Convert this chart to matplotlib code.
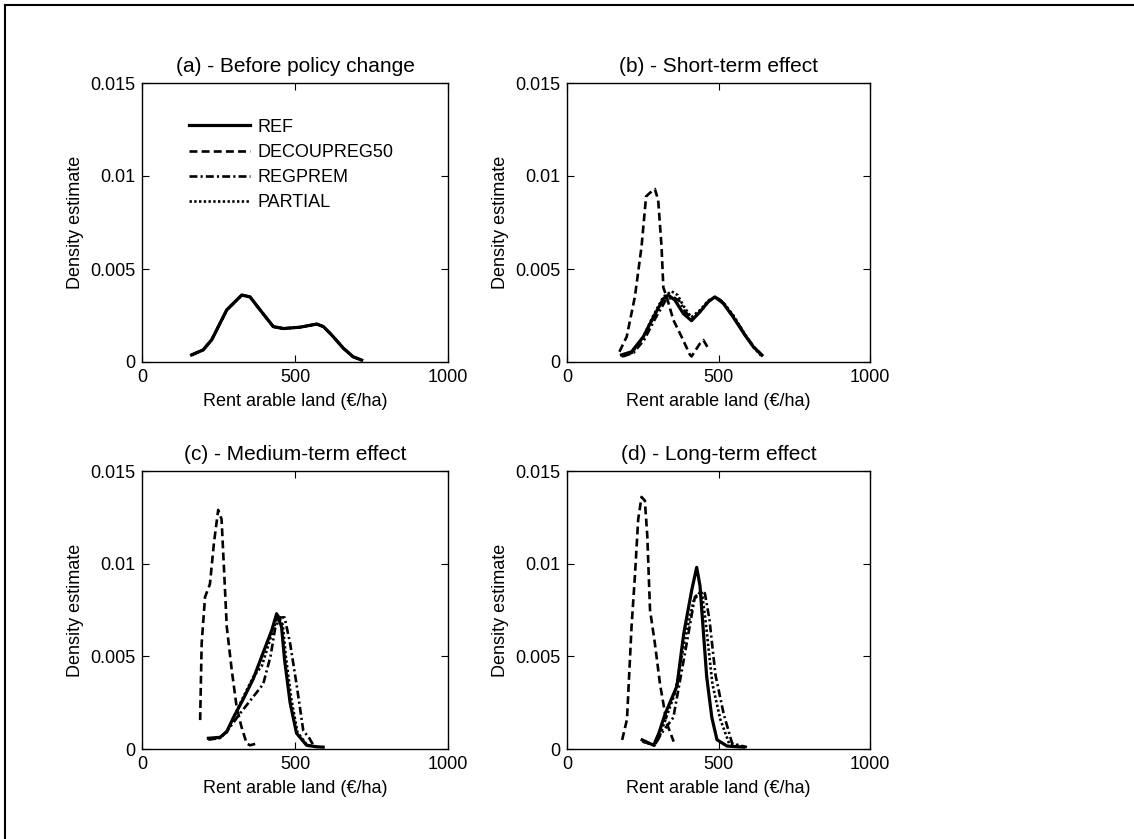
import matplotlib
matplotlib.use("Agg")
import matplotlib.pyplot as plt
from matplotlib.lines import Line2D

plt.rcParams["font.family"] = ["Liberation Sans", "DejaVu Sans"]

# ── Data ────────────────────────────────────────────────────────────────────
SCENARIOS = ["REF", "DECOUPREG50", "REGPREM", "PARTIAL"]
TITLES = ["(a) - Before policy change", "(b) - Short-term effect",
          "(c) - Medium-term effect", "(d) - Long-term effect"]

# (a) before policy change: all four scenarios coincide
a_x = [162, 200, 228, 277, 326, 353, 386, 429, 462, 516, 571, 593, 620, 658, 690, 718]
a_y = [0.00038, 0.00065, 0.0012, 0.0028, 0.0036, 0.0035, 0.0028, 0.0019,
       0.0018, 0.00187, 0.00204, 0.0019, 0.00145, 0.00074, 0.00028, 0.0001]

# (b) short-term
b_ref_x = [180, 213, 252, 285, 318, 334, 356, 384, 411, 439, 466, 488, 516, 549, 587, 615, 643]
b_ref_y = [0.00038, 0.00055, 0.00136, 0.0024, 0.0034, 0.0036, 0.00333, 0.0026, 0.00222,
           0.0027, 0.00324, 0.0035, 0.00315, 0.0024, 0.00145, 0.00082, 0.00038]
b_dec_x = [173, 197, 224, 246, 261, 274, 290, 301, 312, 318, 329, 351, 378, 406, 411, 439, 450, 466]
b_dec_y = [0.00055, 0.00136, 0.0035, 0.0062, 0.0089, 0.0091, 0.0093, 0.0087, 0.0062,
           0.0040, 0.0035, 0.00226, 0.00136, 0.00038, 0.0003, 0.001, 0.00118, 0.00074]
b_reg_x = [185, 220, 255, 290, 325, 350, 370, 390, 415, 445, 470, 495, 520, 552, 590, 618, 646]
b_reg_y = [0.0003, 0.0005, 0.0012, 0.0023, 0.0033, 0.0035, 0.0033, 0.0027, 0.0023,
           0.0028, 0.0033, 0.0035, 0.0031, 0.0024, 0.0014, 0.0008, 0.0003]
b_par_x = [180, 215, 250, 285, 318, 345, 365, 385, 410, 440, 466, 490, 516, 549, 587, 615, 643]
b_par_y = [0.0003, 0.0005, 0.0013, 0.0025, 0.0035, 0.0038, 0.0036, 0.0030, 0.0024,
           0.0028, 0.0033, 0.0035, 0.0032, 0.0025, 0.0015, 0.0008, 0.0003]

# (c) medium-term
c_ref_x = [217, 255, 277, 299, 331, 364, 396, 424, 440, 456, 466, 484, 505, 538, 571, 592]
c_ref_y = [0.00058, 0.00063, 0.00094, 0.0017, 0.0027, 0.0038, 0.0052, 0.0064, 0.0073,
           0.0066, 0.0048, 0.0025, 0.00085, 0.0002, 0.00012, 0.0001]
c_dec_x = [190, 195, 206, 222, 235, 249, 260, 268, 277, 293, 309, 325, 342, 353, 375]
c_dec_y = [0.00156, 0.0057, 0.0082, 0.0089, 0.0111, 0.0129, 0.0124, 0.0097, 0.0066,
           0.0043, 0.0023, 0.0012, 0.0003, 0.0002, 0.0003]
c_reg_x = [217, 255, 280, 315, 353, 396, 420, 435, 450, 466, 484, 505, 527, 547, 560]
c_reg_y = [0.0005, 0.0006, 0.0010, 0.0018, 0.0026, 0.0035, 0.0050, 0.0065, 0.0071,
           0.0071, 0.0057, 0.0035, 0.0010, 0.00058, 0.0002]
c_par_x = [217, 255, 277, 299, 331, 364, 392, 424, 445, 460, 470, 488, 508, 540, 575]
c_par_y = [0.00055, 0.0006, 0.0009, 0.0017, 0.0028, 0.0039, 0.0045, 0.0062, 0.0072,
           0.0067, 0.0050, 0.0027, 0.0009, 0.0002, 0.0001]

# (d) long-term
d_ref_x = [248, 286, 303, 324, 363, 385, 412, 428, 439, 461, 478, 495, 528, 583]
d_ref_y = [0.00049, 0.0002, 0.00085, 0.0019, 0.0034, 0.0062, 0.0086, 0.0098, 0.0088,
           0.0039, 0.0017, 0.0005, 0.00016, 0.0001]
d_dec_x = [182, 198, 213, 224, 235, 246, 257, 265, 274, 290, 307, 329, 352]
d_dec_y = [0.00049, 0.0016, 0.0066, 0.0093, 0.0124, 0.0136, 0.0134, 0.0115, 0.0075,
           0.0057, 0.0035, 0.0014, 0.0004]
d_reg_x = [250, 290, 310, 351, 395, 422, 442, 455, 470, 490, 517, 545, 594]
d_reg_y = [0.0004, 0.0002, 0.0008, 0.0017, 0.0057, 0.0082, 0.0085, 0.0084, 0.0070,
           0.0040, 0.0019, 0.0003, 0.0001]
d_par_x = [250, 290, 308, 356, 390, 418, 436, 445, 458, 480, 506, 535, 585]
d_par_y = [0.0004, 0.0002, 0.0008, 0.0030, 0.0060, 0.0080, 0.0084, 0.0085, 0.0068,
           0.0035, 0.0016, 0.0003, 0.0001]

PANELS = [
    [(a_x, a_y), (a_x, a_y), (a_x, a_y), (a_x, a_y)],
    [(b_ref_x, b_ref_y), (b_dec_x, b_dec_y), (b_reg_x, b_reg_y), (b_par_x, b_par_y)],
    [(c_ref_x, c_ref_y), (c_dec_x, c_dec_y), (c_reg_x, c_reg_y), (c_par_x, c_par_y)],
    [(d_ref_x, d_ref_y), (d_dec_x, d_dec_y), (d_reg_x, d_reg_y), (d_par_x, d_par_y)],
]

X_TICKS = [0, 500, 1000]
Y_TICKS = [0, 0.005, 0.01, 0.015]
Y_TICKLABELS = ["0", "0.005", "0.01", "0.015"]

# ── Style ───────────────────────────────────────────────────────────────────
STYLES = {
    "REF":         dict(linestyle="-", linewidth=2.3, zorder=5),
    "DECOUPREG50": dict(linestyle=(0, (3.0, 1.6)), linewidth=1.9, zorder=4),
    "REGPREM":     dict(linestyle=(0, (3.0, 1.2, 0.8, 1.2)), linewidth=1.9, zorder=3),
    "PARTIAL":     dict(linestyle=(0, (0.9, 0.9)), linewidth=1.9, zorder=2),
}
FS = 13

W, H = 1134, 839
fig = plt.figure(figsize=(W / 100, H / 100), dpi=100)

# axes boxes in pixels: left, top, right, bottom
BOXES = [(142, 83, 448, 362), (567, 83, 870, 362),
         (142, 471, 448, 749), (567, 471, 870, 749)]

for i, (l, t, r, b) in enumerate(BOXES):
    ax = fig.add_axes([l / W, 1 - b / H, (r - l) / W, (b - t) / H])
    for name, (xs, ys) in zip(SCENARIOS, PANELS[i]):
        ax.plot(xs, ys, color="black", label=name, **STYLES[name])
    ax.set_xlim(0, 1000)
    ax.set_ylim(0, 0.015)
    ax.set_xticks(X_TICKS)
    ax.set_xticklabels([str(v) for v in X_TICKS])
    ax.set_yticks(Y_TICKS)
    ax.set_yticklabels(Y_TICKLABELS)
    ax.tick_params(direction="in", top=True, right=True, length=5,
                   labelsize=FS, pad=5)
    for sp in ax.spines.values():
        sp.set_linewidth(1.0)
    ax.set_xlabel("Rent arable land (€/ha)", fontsize=FS, labelpad=5)
    ax.set_ylabel("Density estimate", fontsize=FS, labelpad=4)
    ax.set_title(TITLES[i], fontsize=15, pad=8)
    if i == 0:
        ax.legend(loc="upper left", bbox_to_anchor=(0.1, 0.93), frameon=False,
                  fontsize=FS, handlelength=3.4, handletextpad=0.4,
                  labelspacing=0.45)

# outer frame (only top and left edges visible in the reference)
fig.add_artist(Line2D([5 / W, 5 / W], [0, 1 - 5 / H], transform=fig.transFigure,
                      color="black", linewidth=1.5))
fig.add_artist(Line2D([5 / W, 1], [1 - 5 / H, 1 - 5 / H], transform=fig.transFigure,
                      color="black", linewidth=1.5))

fig.savefig("out.png", dpi=100)
